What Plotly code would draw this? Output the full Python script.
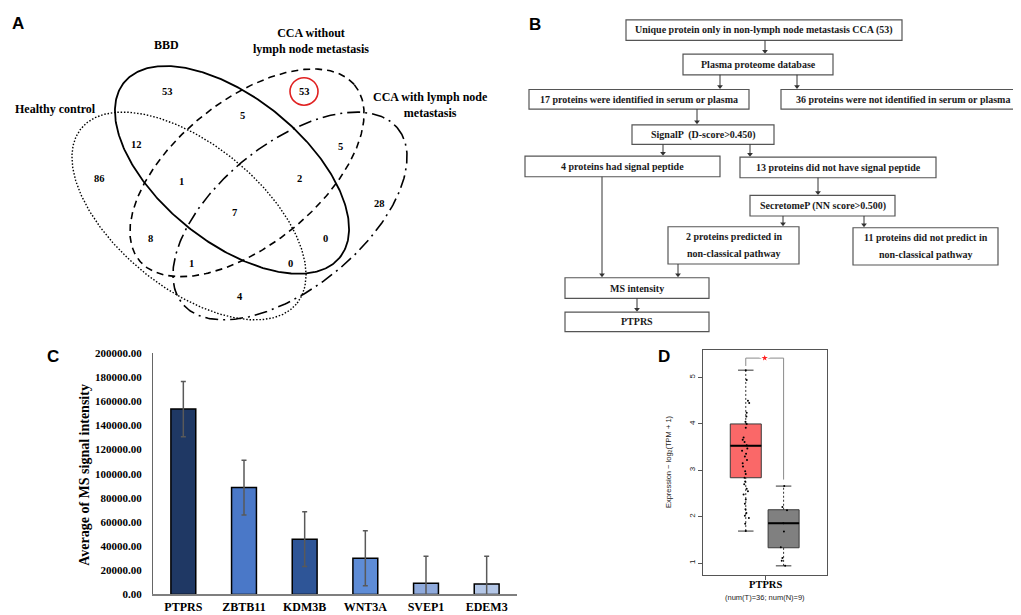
import numpy as np
import plotly.graph_objects as go

W, H = 1021, 615
SERIF = "Liberation Serif"
SANS = "Liberation Sans"

# ---------------- Panel A: Venn data ----------------
venn_labels = ["Healthy control", "BBD", "CCA without<br>lymph node metastasis",
               "CCA with lymph node<br>metastasis"]
venn_label_pos = [(47, 97), (158, 32), (303, 28), (422, 93)]
venn_counts = [53, 53, 5, 12, 5, 86, 1, 2, 7, 28, 8, 0, 1, 0, 4]
venn_count_pos = [(159, 79), (296, 79), (234, 104), (128, 133), (332, 135), (91, 168),
                  (173, 171), (291, 168), (226, 202), (371, 193), (142, 229), (317, 229),
                  (183, 254), (282, 254), (232, 288)]
# ellipse geometry (cx, cy, a, b, angle, dash, width) in pixel layout space
venn_ellipses = [
    (181, 206, 140, 73, 40, "1.5px,1.8px", 1.4),
    (224, 159, 140, 73, 40, "solid", 1.8),
    (239, 162, 140, 73, -40, "7px,5px", 1.6),
    (282, 206, 140, 73, -40, "13px,5px,2px,5px", 1.6),
]

# ---------------- Panel B: flowchart ----------------
flow_boxes = [
    ((618, 6, 894, 27), ["Unique protein only in non-lymph node metastasis CCA (53)"]),
    ((675, 41, 825, 62), ["Plasma proteome database"]),
    ((521, 77, 741, 97), ["17 proteins were identified in serum or plasma"]),
    ((773, 77, 1016, 97), ["36 proteins were not identified in serum or plasma"]),
    ((624, 113, 766, 133), ["SignalP  (D-score>0.450)"]),
    ((517, 145, 712, 166), ["4 proteins had signal peptide"]),
    ((732, 146, 928, 167), ["13 proteins did not have signal peptide"]),
    ((742, 185, 887, 206), ["SecretomeP (NN score>0.500)"]),
    ((660, 217, 791, 255), ["2 proteins predicted in", "non-classical pathway"]),
    ((845, 218, 990, 256), ["11 proteins did not predict in", "non-classical pathway"]),
    ((557, 269, 701, 290), ["MS intensity"]),
    ((557, 304, 701, 324), ["PTPRS"]),
]
flow_arrows = [(757, 27, 40), (712, 62, 76), (789, 62, 76), (689, 97, 112), (655, 133, 144),
               (742, 133, 145), (810, 167, 184), (775, 206, 216), (856, 206, 217),
               (594, 166, 268), (670, 255, 268), (629, 290, 303)]

# ---------------- Panel C: MS intensity ----------------
genes = ["PTPRS", "ZBTB11", "KDM3B", "WNT3A", "SVEP1", "EDEM3"]
ms_mean = [153500, 88500, 45800, 30000, 9200, 8700]
ms_sd = [22800, 22700, 22700, 22800, 22500, 23000]
bar_colors = ["#1F3864", "#4A78C8", "#2E5597", "#5E8CD6", "#8FAADC", "#B4C7E7"]

# ---------------- Panel D: GEPIA box plot ----------------
box_groups = ["Tumor", "Normal"]
box_x = [1.38, 2.60]
box_q1 = [2.84, 1.33]
box_median = [3.53, 1.86]
box_q3 = [4.00, 2.15]
box_low = [1.69, 0.94]
box_high = [5.16, 2.66]
box_fill = ["#FA6868", "#808080"]
tumor_vals = [5.16, 4.95, 4.50, 4.45, 4.24, 4.16, 4.05, 4.00, 3.92, 3.71, 3.66, 3.61,
              3.54, 3.47, 3.42, 3.36, 3.30, 3.22, 3.15, 3.08, 2.98, 2.92, 2.84, 2.76,
              2.70, 2.60, 2.55, 2.48, 2.37, 2.28, 2.16, 2.08, 2.02, 1.97, 1.85, 1.69]
tumor_jit = [0.00, 0.03, 0.07, 0.11, 0.03, 0.02, -0.01, 0.03, 0.00, -0.07, -0.10, -0.04,
             0.03, 0.05, -0.12, 0.01, -0.03, 0.04, -0.10, -0.09, -0.02, 0.00, -0.04, -0.02,
             -0.05, 0.03, 0.07, -0.07, 0.00, -0.03, -0.01, 0.02, -0.03, 0.10, -0.02, 0.00]
normal_vals = [2.66, 2.21, 2.14, 1.86, 1.68, 1.34, 1.11, 1.05, 0.94]
normal_jit = [0.02, -0.04, 0.11, -0.01, 0.01, -0.09, -0.04, -0.06, 0.05]

fig = go.Figure()

# ---- Panel A ellipses (base pixel axis) ----
t = np.linspace(0, 2 * np.pi, 361)
for cx, cy, a, b, ang, dash, w in venn_ellipses:
    th = np.radians(ang)
    ex = cx + a * np.cos(t) * np.cos(th) - b * np.sin(t) * np.sin(th)
    ey = cy + a * np.cos(t) * np.sin(th) + b * np.sin(t) * np.cos(th)
    fig.add_trace(go.Scatter(x=ex, y=ey, mode="lines", line=dict(color="black", width=w, dash=dash),
                             hoverinfo="skip", showlegend=False, xaxis="x", yaxis="y"))

annotations = []
shapes = []

for (px, py), txt in zip(venn_label_pos, venn_labels):
    annotations.append(dict(x=px, y=py, xref="x", yref="y", text=txt, showarrow=False,
                            font=dict(family=SERIF, size=12, color="black", weight="bold")))
for (px, py), c in zip(venn_count_pos, venn_counts):
    annotations.append(dict(x=px, y=py, xref="x", yref="y", text=str(c), showarrow=False,
                            font=dict(family=SERIF, size=10.5, color="black", weight="bold")))
# red highlight circle around the unique 53
shapes.append(dict(type="circle", xref="x", yref="y", x0=296 - 14, x1=296 + 14, y0=79 - 14, y1=79 + 14,
                   line=dict(color="#E02020", width=1.6)))

# ---- Panel B flowchart ----
for (x0, y0, x1, y1), lines in flow_boxes:
    shapes.append(dict(type="rect", xref="x", yref="y", x0=x0, x1=x1, y0=y0, y1=y1,
                       line=dict(color="#555555", width=1.2)))
    cxb, cyb = (x0 + x1) / 2, (y0 + y1) / 2
    n = len(lines)
    for i, ln in enumerate(lines):
        yy = cyb + (i - (n - 1) / 2) * 17.5
        annotations.append(dict(x=cxb, y=yy, xref="x", yref="y", text=ln, showarrow=False,
                                font=dict(family=SERIF, size=10, color="#1a1a1a", weight="bold")))
for ax_, ys, ye in flow_arrows:
    shapes.append(dict(type="line", xref="x", yref="y", x0=ax_, x1=ax_, y0=ys, y1=ye - 2,
                       line=dict(color="#333333", width=1)))
fig.add_trace(go.Scatter(x=[a[0] for a in flow_arrows], y=[a[2] - 2 for a in flow_arrows],
                         mode="markers", marker=dict(symbol="triangle-down", size=5, color="#333333",
                                                     line=dict(width=0)),
                         xaxis="x", yaxis="y", hoverinfo="skip", showlegend=False))

# ---- Panel labels ----
for lab, (px, py) in zip(["A", "B", "C", "D"], [(10, 10), (527, 11), (45, 349), (656, 349)]):
    annotations.append(dict(x=px, y=py, xref="x", yref="y", text=lab, showarrow=False,
                            font=dict(family=SANS, size=17, color="black", weight="bold")))

# ---- Panel C bars ----
fig.add_trace(go.Bar(x=genes, y=ms_mean, width=0.41, xaxis="x2", yaxis="y2",
                     marker=dict(color=bar_colors, line=dict(color="black", width=1.5)),
                     error_y=dict(type="data", array=ms_sd, visible=True, color="#595959",
                                  thickness=1.5, width=2.5),
                     showlegend=False))
annotations.append(dict(x=77, y=470, xref="x", yref="y", text="Average of MS signal intensity",
                        textangle=-90, showarrow=False,
                        font=dict(family=SERIF, size=14, color="black", weight="bold")))

# ---- Panel D box plot ----
for i in range(2):
    fig.add_trace(go.Box(x=[box_x[i]], q1=[box_q1[i]], median=[box_median[i]], q3=[box_q3[i]],
                         lowerfence=[box_q1[i]], upperfence=[box_q3[i]], width=1.0,
                         fillcolor=box_fill[i], line=dict(color="#3a3a3a", width=1),
                         whiskerwidth=0, boxpoints=False, xaxis="x3", yaxis="y3",
                         hoverinfo="skip", showlegend=False, name=box_groups[i]))
    # median (thicker)
    fig.add_trace(go.Scatter(x=[box_x[i] - 0.5, box_x[i] + 0.5], y=[box_median[i]] * 2, mode="lines",
                             line=dict(color="black", width=2), xaxis="x3", yaxis="y3",
                             hoverinfo="skip", showlegend=False))
    # dotted whiskers
    for lo, hi in [(box_low[i], box_q1[i]), (box_q3[i], box_high[i])]:
        fig.add_trace(go.Scatter(x=[box_x[i], box_x[i]], y=[lo, hi], mode="lines",
                                 line=dict(color="#333333", width=1, dash="2px,2px"),
                                 xaxis="x3", yaxis="y3", hoverinfo="skip", showlegend=False))
    for v in (box_low[i], box_high[i]):
        fig.add_trace(go.Scatter(x=[box_x[i] - 0.25, box_x[i] + 0.25], y=[v, v], mode="lines",
                                 line=dict(color="#333333", width=1), xaxis="x3", yaxis="y3",
                                 hoverinfo="skip", showlegend=False))

fig.add_trace(go.Scatter(x=[box_x[0] + j for j in tumor_jit], y=tumor_vals, mode="markers",
                         marker=dict(color="black", size=2), xaxis="x3", yaxis="y3",
                         hoverinfo="skip", showlegend=False))
fig.add_trace(go.Scatter(x=[box_x[1] + j for j in normal_jit], y=normal_vals, mode="markers",
                         marker=dict(color="black", size=2), xaxis="x3", yaxis="y3",
                         hoverinfo="skip", showlegend=False))
# significance bracket
fig.add_trace(go.Scatter(x=[box_x[0], box_x[0], box_x[1], box_x[1]], y=[5.25, 5.42, 5.42, 2.80],
                         mode="lines", line=dict(color="#8a8a8a", width=1), xaxis="x3", yaxis="y3",
                         hoverinfo="skip", showlegend=False))
fig.add_trace(go.Scatter(x=[(box_x[0] + box_x[1]) / 2], y=[5.42], mode="markers",
                         marker=dict(symbol="star", size=8, color="#FF2020", line=dict(color="white", width=1.5)),
                         xaxis="x3", yaxis="y3", hoverinfo="skip", showlegend=False))

annotations.append(dict(x=757, y=582, xref="x", yref="y", text="PTPRS", showarrow=False,
                        font=dict(family=SERIF, size=10.5, color="black", weight="bold")))
annotations.append(dict(x=757, y=595.5, xref="x", yref="y", text="(num(T)=36; num(N)=9)",
                        showarrow=False, font=dict(family=SANS, size=7.5, color="#222222")))
annotations.append(dict(x=661, y=457, xref="x", yref="y", text="Expression − log<sub>2</sub>(TPM + 1)",
                        textangle=-90, showarrow=False, font=dict(family=SANS, size=7.5, color="#222222")))

fig.update_layout(
    width=W, height=H, autosize=False,
    margin=dict(l=0, r=0, t=0, b=0, pad=0),
    paper_bgcolor="white", plot_bgcolor="white",
    showlegend=False,
    shapes=shapes, annotations=annotations,
    xaxis=dict(domain=[0, 1], range=[0, W], visible=False, fixedrange=True),
    yaxis=dict(domain=[0, 1], range=[H, 0], visible=False, fixedrange=True),
    xaxis2=dict(domain=[145 / W, 509 / W], anchor="y2", range=[-0.5, 5.5], showline=True,
                linecolor="#7f7f7f", linewidth=2, showgrid=False, ticks="", zeroline=False,
                tickfont=dict(family=SERIF, size=12, color="black", weight="bold")),
    yaxis2=dict(domain=[1 - 592 / H, 1 - 345.7 / H], anchor="x2", range=[0, 200000], dtick=20000,
                tickformat=".2f", showline=True, linecolor="#666666", linewidth=1.2, showgrid=False,
                zeroline=False, ticks="", ticklabelstandoff=8,
                tickfont=dict(family=SERIF, size=11, color="black", weight="bold")),
    xaxis3=dict(domain=[695 / W, 819 / W], anchor="y3", range=[0, 4], showline=True, mirror=True,
                linecolor="#555555", linewidth=1, showgrid=False, zeroline=False, tickvals=[2],
                showticklabels=False, ticks="outside", ticklen=4, tickcolor="#555555"),
    yaxis3=dict(domain=[1 - 572 / H, 1 - 343 / H], anchor="x3", range=[0.746, 5.588], showline=True,
                mirror=True, linecolor="#555555", linewidth=1, showgrid=False, zeroline=False,
                tickvals=[1, 2, 3, 4, 5], ticks="outside", ticklen=4, tickcolor="#555555",
                tickangle=-90, tickfont=dict(family=SANS, size=8, color="#222222")),
)

fig.write_html("out.html")
